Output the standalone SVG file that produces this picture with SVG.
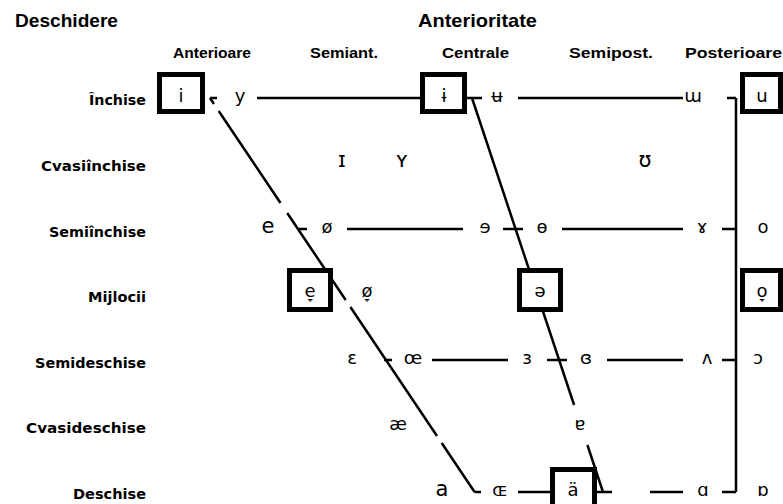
<svg xmlns="http://www.w3.org/2000/svg" width="783" height="504" viewBox="0 0 783 504">
<style>
.ln{stroke:#000;stroke-width:2.5;fill:none;stroke-linecap:butt}
.bx{stroke:#000;stroke-width:5;fill:#fff}
.ti{font-family:"Liberation Sans",Arial,sans-serif;font-weight:bold;font-size:19px;fill:#000}
.hd{font-family:"Liberation Sans",Arial,sans-serif;font-weight:bold;font-size:15px;fill:#000}
.rw{font-family:"DejaVu Sans",sans-serif;font-weight:bold;font-size:14px;fill:#000;text-anchor:end}
.v{font-family:"DejaVu Sans",sans-serif;font-size:18px;fill:#000;text-anchor:middle}
.big{font-size:21px}
</style>
<rect width="783" height="504" fill="#fff"/>
<g id="titles">
<text class="ti" x="15" y="27" textLength="103" lengthAdjust="spacingAndGlyphs">Deschidere</text>
<text class="ti" x="418" y="27" textLength="119" lengthAdjust="spacingAndGlyphs">Anterioritate</text>
</g>
<g id="headers">
<text class="hd" x="173" y="58" textLength="78" lengthAdjust="spacingAndGlyphs">Anterioare</text>
<text class="hd" x="310" y="58" textLength="68" lengthAdjust="spacingAndGlyphs">Semiant.</text>
<text class="hd" x="442" y="58" textLength="67" lengthAdjust="spacingAndGlyphs">Centrale</text>
<text class="hd" x="569" y="58" textLength="84" lengthAdjust="spacingAndGlyphs">Semipost.</text>
<text class="hd" x="685" y="58" textLength="97" lengthAdjust="spacingAndGlyphs">Posterioare</text>
</g>
<g id="rows">
<text class="rw" x="146" y="105" textLength="57" lengthAdjust="spacingAndGlyphs">Închise</text>
<text class="rw" x="146" y="171" textLength="105" lengthAdjust="spacingAndGlyphs">Cvasiînchise</text>
<text class="rw" x="146" y="237" textLength="97" lengthAdjust="spacingAndGlyphs">Semiînchise</text>
<text class="rw" x="146" y="302" textLength="58" lengthAdjust="spacingAndGlyphs">Mijlocii</text>
<text class="rw" x="146" y="368" textLength="111" lengthAdjust="spacingAndGlyphs">Semideschise</text>
<text class="rw" x="146" y="433" textLength="120" lengthAdjust="spacingAndGlyphs">Cvasideschise</text>
<text class="rw" x="146" y="499" textLength="73" lengthAdjust="spacingAndGlyphs">Deschise</text>
</g>
<g id="connectors" class="ln">
<path d="M210,98H217 M257,98H422 M467,98H482 M518,98H683 M727,98H736"/>
<path d="M297,229H307 M347,229H463 M503,229H523 M562,229H683 M722,229H736"/>
<path d="M384,360H392 M432,360H508 M547,360H567 M607,360H683 M722,360H736"/>
<path d="M474.6,492H481 M518,492H552 M597,492H612 M650,492H683 M722,492H736"/>
<path d="M210,98L214,104 M218.7,111L280.5,203 M287.2,213L345.7,300 M350.4,307L437,436 M441.7,443L474.6,492"/>
<path d="M472,98L574.1,405 M587.4,445L603,492"/>
<path d="M736,98V492"/>
</g>
<g id="n-i"><rect class="bx" x="159.5" y="74.5" width="43" height="37"/><text class="v" x="181" y="102">i</text></g>
<g id="n-y"><text class="v" x="240" y="102">y</text></g>
<g id="n-ɨ"><rect class="bx" x="422.5" y="74.5" width="42" height="37"/><text class="v" x="444" y="102">ɨ</text></g>
<g id="n-ʉ"><text class="v" x="497" y="102">ʉ</text></g>
<g id="n-ɯ"><text class="v" x="693" y="102">ɯ</text></g>
<g id="n-u"><rect class="bx" x="742.5" y="74.5" width="38" height="37"/><text class="v" x="762" y="102">u</text></g>
<g id="n-ɪ"><text class="v big" x="342" y="167">ɪ</text></g>
<g id="n-ʏ"><text class="v big" x="402" y="167">ʏ</text></g>
<g id="n-ʊ"><text class="v big" x="645" y="167">ʊ</text></g>
<g id="n-e"><text class="v big" x="268" y="233">e</text></g>
<g id="n-ø"><text class="v" x="327" y="233">ø</text></g>
<g id="n-ɘ"><text class="v" x="485" y="233">ɘ</text></g>
<g id="n-ɵ"><text class="v" x="542" y="233">ɵ</text></g>
<g id="n-ɤ"><text class="v" x="702" y="233">ɤ</text></g>
<g id="n-o"><text class="v" x="763" y="233">o</text></g>
<g id="n-e-mid"><rect class="bx" x="289.5" y="270.5" width="41" height="39"/><text class="v" x="310" y="297">e̞</text></g>
<g id="n-ø-mid"><text class="v" x="367" y="297">ø̞</text></g>
<g id="n-ə"><rect class="bx" x="519.5" y="270.5" width="41" height="39"/><text class="v" x="540" y="297">ə</text></g>
<g id="n-o-mid"><rect class="bx" x="742.5" y="270.5" width="38" height="39"/><text class="v" x="762" y="297">o̞</text></g>
<g id="n-ɛ"><text class="v" x="352" y="364">ɛ</text></g>
<g id="n-œ"><text class="v" x="413" y="364">œ</text></g>
<g id="n-ɜ"><text class="v" x="527" y="364">ɜ</text></g>
<g id="n-ɞ"><text class="v" x="586" y="364">ɞ</text></g>
<g id="n-ʌ"><text class="v" x="707" y="364">ʌ</text></g>
<g id="n-ɔ"><text class="v" x="758" y="364">ɔ</text></g>
<g id="n-æ"><text class="v" x="398" y="430">æ</text></g>
<g id="n-ɐ"><text class="v" x="580" y="430">ɐ</text></g>
<g id="n-a"><text class="v big" x="442" y="496">a</text></g>
<g id="n-ɶ"><text class="v" x="500" y="496">ɶ</text></g>
<g id="n-ä"><rect class="bx" x="552.5" y="469.5" width="42" height="40"/><text class="v" x="573" y="496">ä</text></g>
<g id="n-ɑ"><text class="v" x="703" y="496">ɑ</text></g>
<g id="n-ɒ"><text class="v" x="763" y="496">ɒ</text></g>
</svg>
